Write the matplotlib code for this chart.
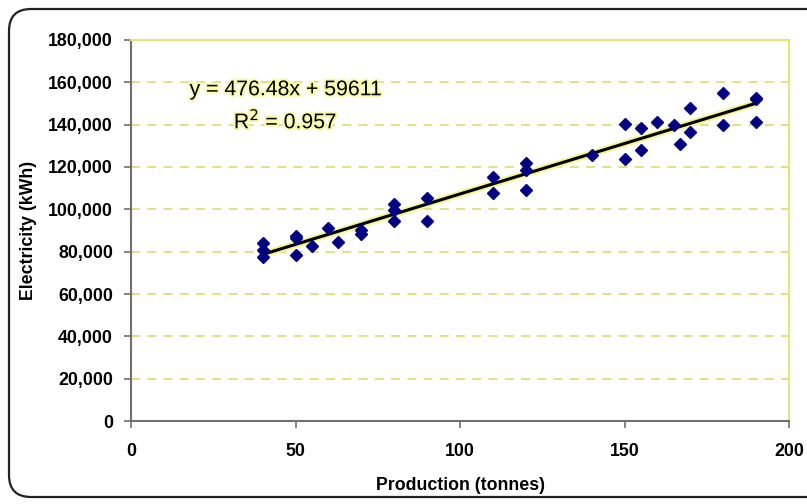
import matplotlib
matplotlib.use("Agg")
import matplotlib.pyplot as plt
import matplotlib.patheffects as pe
from matplotlib.patches import FancyBboxPatch
from matplotlib.transforms import IdentityTransform
from matplotlib.ticker import FuncFormatter
import numpy as np

# Data
production = [40, 40, 40, 50, 50, 50, 55, 60, 63, 70, 70, 80, 80, 80, 90, 90,
              110, 110, 120, 120, 120, 140, 150, 150, 155, 155, 160, 165, 167,
              170, 170, 180, 180, 190, 190, 190]
electricity = [84000, 81000, 77500, 87500, 86500, 78500, 82500, 91000, 84500,
               90000, 88500, 102500, 99500, 94500, 105500, 94500, 115500, 107500,
               121800, 118500, 109300, 125800, 140500, 124000, 138500, 128000,
               141300, 140000, 130800, 147700, 136300, 154800, 140000, 152800,
               152000, 141200]
slope = 476.48
intercept = 59611
r_squared = 0.957
x_ticks = [0, 50, 100, 150, 200]
y_ticks = list(range(0, 180001, 20000))

plt.rcParams['font.family'] = ['Liberation Sans', 'DejaVu Sans']

fig = plt.figure(figsize=(8.07, 5.04), dpi=100)
fig.patch.set_facecolor('white')

# rounded outer frame
frame = FancyBboxPatch((9, 7), 820, 488, boxstyle="round,pad=0,rounding_size=22",
                       transform=IdentityTransform(), facecolor='none',
                       edgecolor='#222222', linewidth=1.6)
fig.patches.append(frame)

ax = fig.add_axes([131/807, 83/504, (789-131)/807, (421-40)/504])
ax.set_xlim(0, 200)
ax.set_ylim(0, 180000)

ax.set_yticks(y_ticks)
ax.set_xticks(x_ticks)
ax.yaxis.set_major_formatter(FuncFormatter(lambda v, p: f"{int(v):,}"))
ax.grid(axis='y', color='#dede80', linestyle=(0, (5, 4)), linewidth=1.3)
ax.set_axisbelow(True)

for s in ['top', 'right']:
    ax.spines[s].set_color('#e6e670')
    ax.spines[s].set_linewidth(1.5)
for s in ['left', 'bottom']:
    ax.spines[s].set_color('#707070')
    ax.spines[s].set_linewidth(1.5)

ax.tick_params(axis='both', direction='out', length=5, width=1.2, color='#707070',
               labelsize=12.8)
ax.tick_params(axis='y', pad=8)
ax.tick_params(axis='x', pad=11)
for lbl in ax.get_xticklabels() + ax.get_yticklabels():
    lbl.set_fontweight('bold')

# trend line
xl = np.array([min(production), max(production)])
ax.plot(xl, slope * xl + intercept, color='black', linewidth=2.2, zorder=2,
        path_effects=[pe.Stroke(linewidth=5, foreground='#f5f590'), pe.Normal()])

ax.plot(production, electricity, linestyle='none', marker='D', markersize=6.5,
        color='#000080', zorder=3)

halo = [pe.withStroke(linewidth=3, foreground='#fafaa8')]
ax.text(47, 156500, f"y = {slope}x + {intercept}", ha='center', va='center',
        fontsize=15.3, path_effects=halo)
ax.text(47, 142300, f"R$^2$ = {r_squared}", ha='center', va='center',
        fontsize=15.3, path_effects=halo)

ax.set_xlabel("Production (tonnes)", fontsize=12.8, fontweight='bold', labelpad=12)
ax.set_ylabel("Electricity (kWh)", fontsize=12.8, fontweight='bold', labelpad=8)

fig.savefig("out.png", dpi=100)
